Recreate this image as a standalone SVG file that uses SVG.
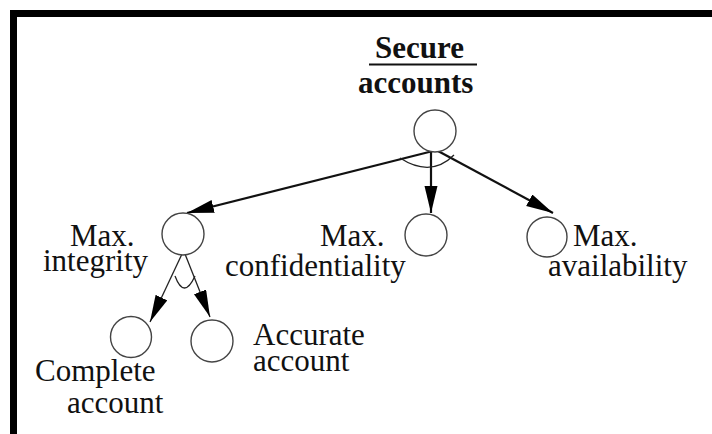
<svg xmlns="http://www.w3.org/2000/svg" width="712" height="434" viewBox="0 0 712 434">
<style>
text{font-family:"Liberation Serif","Times New Roman","DejaVu Serif",serif;font-size:31px;fill:#111}
.b{font-weight:bold}
.n{fill:#fff;stroke:#444;stroke-width:1.4}
.c{fill:none;stroke:#111;stroke-width:2.2}
.s{fill:none;stroke:#222;stroke-width:1.3}
</style>
<defs>
<marker id="ah" markerUnits="userSpaceOnUse" markerWidth="28" markerHeight="14" refX="27" refY="6.5" orient="auto">
<path d="M0,0 L27,6.5 L0,13 z" fill="#000"/>
</marker>
</defs>
<rect width="712" height="434" fill="#fff"/>
<path d="M13.5,434 V13.5 H712" fill="none" stroke="#000" stroke-width="7"/>
<g id="connectors">
<line class="c" x1="433" y1="151" x2="187" y2="213" marker-end="url(#ah)"/>
<line class="c" x1="431" y1="152" x2="431" y2="213" marker-end="url(#ah)"/>
<line class="c" x1="438" y1="151" x2="553" y2="213" marker-end="url(#ah)"/>
<path class="s" d="M400,158 Q431,178 454,155"/>
<line class="s" x1="182" y1="254" x2="150" y2="322" marker-end="url(#ah)"/>
<line class="s" x1="185" y1="254" x2="210" y2="317" marker-end="url(#ah)"/>
<path class="s" d="M175,276 Q184,300 195,276"/>
</g>
<g id="secure-accounts">
<circle class="n" cx="435" cy="131" r="21"/>
<text class="b" x="375" y="58">Secure</text>
<line x1="369" y1="64.5" x2="477" y2="64.5" stroke="#111" stroke-width="2"/>
<text class="b" x="358" y="93">accounts</text>
</g>
<g id="max-integrity">
<circle class="n" cx="183" cy="234" r="21"/>
<text x="70" y="246">Max.</text>
<text x="43" y="271">integrity</text>
</g>
<g id="max-confidentiality">
<circle class="n" cx="426" cy="235" r="21"/>
<text x="320" y="246">Max.</text>
<text x="225" y="276">confidentiality</text>
</g>
<g id="max-availability">
<circle class="n" cx="547" cy="237" r="20"/>
<text x="573" y="246">Max.</text>
<text x="548" y="276">availability</text>
</g>
<g id="complete-account">
<circle class="n" cx="131" cy="337" r="20.5"/>
<text x="35" y="381">Complete</text>
<text x="67" y="413">account</text>
</g>
<g id="accurate-account">
<circle class="n" cx="212" cy="341" r="21"/>
<text x="253" y="345">Accurate</text>
<text x="253" y="371">account</text>
</g>
</svg>
